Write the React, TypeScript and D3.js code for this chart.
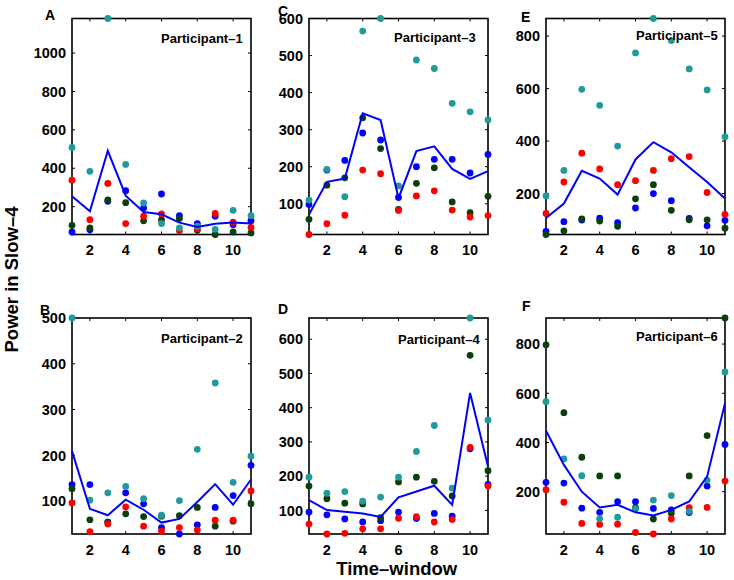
import React from "react";
import * as d3 from "d3";

const timeWindows = [1, 2, 3, 4, 5, 6, 7, 8, 9, 10, 11];
const xTicks = [2, 4, 6, 8, 10];

// Participant-1 (A)
const p1Teal = [508, 384, 1180, 420, 219, 112, 89, 98, 82, 181, 153];
const p1Red = [338, 132, 321, 112, 150, 162, 75, 84, 165, 119, 92];
const p1Green = [103, 89, 235, 221, 126, 131, 138, 77, 55, 68, 63];
const p1Blue = [68, 80, 228, 283, 193, 266, 153, 112, 150, 106, 127];
const p1Mean = [254, 176, 491, 257, 172, 160, 117, 94, 111, 118, 112];
const p1YTicks = [200, 400, 600, 800, 1000];

// Participant-2 (B)
const p2Teal = [500, 102, 118, 132, 105, 69, 101, 213, 358, 141, 198];
const p2Red = [96, 33, 50, 87, 45, 34, 42, 37, 58, 58, 122];
const p2Green = [127, 59, 54, 72, 66, 67, 68, 86, 45, 56, 94];
const p2Blue = [136, 136, 54, 118, 94, 42, 28, 48, 86, 112, 178];
const p2Mean = [209, 83, 69, 103, 81, 53, 61, 98, 137, 92, 147];
const p2YTicks = [100, 200, 300, 400, 500];

// Participant-3 (C)
const p3Teal = [110, 193, 119, 566, 600, 148, 488, 465, 371, 348, 326];
const p3Red = [17, 46, 69, 191, 181, 82, 121, 135, 83, 64, 68];
const p3Green = [58, 150, 170, 332, 249, 85, 155, 197, 105, 76, 120];
const p3Blue = [98, 191, 217, 291, 272, 117, 200, 220, 220, 183, 233];
const p3Mean = [71, 159, 168, 344, 326, 115, 242, 255, 194, 167, 188];
const p3YTicks = [100, 200, 300, 400, 500, 600];

// Participant-4 (D)
const p4Teal = [197, 150, 155, 127, 139, 197, 272, 348, 165, 662, 364];
const p4Red = [60, 31, 33, 46, 46, 77, 82, 66, 73, 284, 171];
const p4Green = [171, 134, 121, 119, 79, 183, 197, 185, 142, 553, 216];
const p4Blue = [95, 87, 75, 66, 70, 95, 76, 91, 83, 280, 176];
const p4Mean = [130, 101, 96, 91, 81, 138, 155, 172, 116, 443, 228];
const p4YTicks = [100, 200, 300, 400, 500, 600];

// Participant-5 (E)
const p5Teal = [191, 288, 597, 536, 381, 736, 867, 783, 675, 595, 416];
const p5Red = [124, 244, 354, 294, 234, 249, 288, 333, 341, 204, 121];
const p5Green = [44, 58, 103, 95, 75, 180, 234, 136, 100, 100, 68];
const p5Blue = [56, 93, 99, 106, 89, 145, 200, 173, 105, 77, 98];
const p5Mean = [107, 162, 287, 257, 196, 330, 396, 357, 300, 244, 181];
const p5YTicks = [200, 400, 600, 800];

// Participant-6 (F)
const p6Teal = [566, 333, 265, 90, 96, 131, 166, 184, 120, 247, 687];
const p6Red = [208, 157, 71, 67, 68, 34, 28, 89, 135, 136, 243];
const p6Green = [797, 521, 340, 264, 264, 135, 89, 112, 264, 428, 906];
const p6Blue = [238, 235, 133, 116, 159, 159, 132, 126, 115, 223, 392];
const p6Mean = [448, 309, 200, 136, 147, 116, 103, 126, 160, 261, 560];
const p6YTicks = [200, 400, 600, 800];

const panelLetters = ["A", "B", "C", "D", "E", "F"];
const panelNames = [
  "Participant\u20131",
  "Participant\u20132",
  "Participant\u20133",
  "Participant\u20134",
  "Participant\u20135",
  "Participant\u20136",
];

const panels = [
  { blue: p1Blue, green: p1Green, red: p1Red, teal: p1Teal, mean: p1Mean, yTicks: p1YTicks },
  { blue: p2Blue, green: p2Green, red: p2Red, teal: p2Teal, mean: p2Mean, yTicks: p2YTicks },
  { blue: p3Blue, green: p3Green, red: p3Red, teal: p3Teal, mean: p3Mean, yTicks: p3YTicks },
  { blue: p4Blue, green: p4Green, red: p4Red, teal: p4Teal, mean: p4Mean, yTicks: p4YTicks },
  { blue: p5Blue, green: p5Green, red: p5Red, teal: p5Teal, mean: p5Mean, yTicks: p5YTicks },
  { blue: p6Blue, green: p6Green, red: p6Red, teal: p6Teal, mean: p6Mean, yTicks: p6YTicks },
];

// layout (positions only)
const PW = 179;
const PH = 216;
const layout = [
  { left: 72, top: 18.5, lx: 45, ly: 20, nx: 161, ny: 43 },
  { left: 72, top: 318, lx: 40, ly: 315, nx: 161, ny: 343 },
  { left: 309, top: 18.5, lx: 278, ly: 15.5, nx: 394, ny: 42 },
  { left: 309, top: 318, lx: 278, ly: 314, nx: 398, ny: 344 },
  { left: 546, top: 18.5, lx: 521, ly: 21.5, nx: 636, ny: 40 },
  { left: 546, top: 318, lx: 522, ly: 311, nx: 636, ny: 341 },
];

const COLORS = {
  blue: "#0000ff",
  green: "#0b3f0b",
  red: "#ff0000",
  teal: "#1f9b9b",
};
const seriesOrder: Array<"blue" | "green" | "red" | "teal"> = ["blue", "green", "red", "teal"];
const FONT = "'Liberation Sans', Arial, Helvetica, sans-serif";

function Panel({ idx }: { idx: number }) {
  const p = panels[idx];
  const L = layout[idx];
  const all = [...p.blue, ...p.green, ...p.red, ...p.teal];
  const [ymin, ymax] = d3.extent(all) as [number, number];
  const x = d3.scaleLinear().domain([1, 11]).range([L.left, L.left + PW]);
  const y = d3.scaleLinear().domain([ymin, ymax]).range([L.top + PH, L.top]);
  const line = d3
    .line<number>()
    .x((_, i) => x(timeWindows[i]))
    .y((d) => y(d));
  const tl = 3;
  const right = L.left + PW;
  const bottom = L.top + PH;
  return (
    <g>
      <rect x={L.left} y={L.top} width={PW} height={PH} fill="none" stroke="#000" strokeWidth={1.6} />
      {xTicks.map((t) => (
        <g key={"x" + t}>
          <line x1={x(t)} x2={x(t)} y1={bottom} y2={bottom - tl} stroke="#000" strokeWidth={1} />
          <line x1={x(t)} x2={x(t)} y1={L.top} y2={L.top + tl} stroke="#000" strokeWidth={1} />
          <text
            x={x(t)}
            y={bottom + 20.5}
            textAnchor="middle"
            fontFamily={FONT}
            fontWeight="bold"
            fontSize={14.5}
          >
            {t}
          </text>
        </g>
      ))}
      {p.yTicks.map((t) => (
        <g key={"y" + t}>
          <line x1={L.left} x2={L.left + tl} y1={y(t)} y2={y(t)} stroke="#000" strokeWidth={1} />
          <line x1={right} x2={right - tl} y1={y(t)} y2={y(t)} stroke="#000" strokeWidth={1} />
          <text
            x={L.left - 6}
            y={y(t)}
            dy="0.36em"
            textAnchor="end"
            fontFamily={FONT}
            fontWeight="bold"
            fontSize={14.5}
          >
            {t}
          </text>
        </g>
      ))}
      {seriesOrder.map((s) =>
        (p[s] as number[]).map((v, i) => (
          <circle key={s + i} cx={x(timeWindows[i])} cy={y(v)} r={3.4} fill={COLORS[s]} />
        ))
      )}
      <path d={line(p.mean) || ""} fill="none" stroke="#0000ff" strokeWidth={2} />
      <text x={L.nx} y={L.ny} fontFamily={FONT} fontWeight="bold" fontSize={13}>
        {panelNames[idx]}
      </text>
      <text x={L.lx} y={L.ly} fontFamily={FONT} fontWeight="bold" fontSize={14}>
        {panelLetters[idx]}
      </text>
    </g>
  );
}

export default function App() {
  return (
    <svg
      width={734}
      height={580}
      style={{ position: "absolute", left: 0, top: 0, background: "#fff" }}
    >
      <rect x={0} y={0} width={734} height={580} fill="#fff" />
      {panels.map((_, i) => (
        <Panel key={i} idx={i} />
      ))}
      <text
        x={396.7}
        y={575}
        textAnchor="middle"
        fontFamily={FONT}
        fontWeight="bold"
        fontSize={18.5}
      >
        Time{"\u2013"}window
      </text>
      <text
        transform="translate(18,279.5) rotate(-90)"
        textAnchor="middle"
        fontFamily={FONT}
        fontWeight="bold"
        fontSize={18.5}
      >
        Power in Slow{"\u2013"}4
      </text>
    </svg>
  );
}
